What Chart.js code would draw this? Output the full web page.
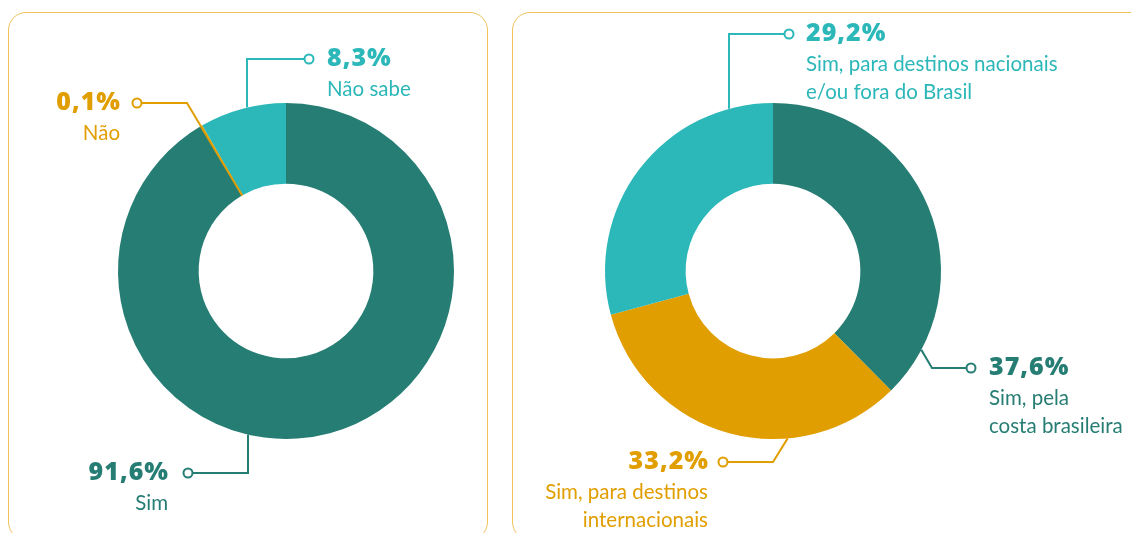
<!DOCTYPE html>
<html>
<head>
<meta charset="utf-8">
<script src="https://cdn.jsdelivr.net/npm/chart.js@4"></script>
<style>
  html, body { margin: 0; padding: 0; background: #fff; overflow: hidden; }
  body { width: 1131px; height: 533px; position: relative; }
  .panel { position: absolute; border: 1.5px solid #F1C25A; border-radius: 18px; box-sizing: border-box; }
  #p1 { left: 8px; top: 12px; width: 480px; height: 528px; }
  #p2 { left: 512px; top: 12px; width: 660px; height: 528px; }
  .box { position: absolute; top: 0; height: 542px; }
  #b1 { left: 0; width: 572px; }
  #b2 { left: 415px; width: 716px; }
</style>
</head>
<body>
<div class="panel" id="p1"></div>
<div class="panel" id="p2"></div>
<div class="box" id="b1"><canvas id="chart1"></canvas></div>
<div class="box" id="b2"><canvas id="chart2"></canvas></div>
<script>
// dados
var q1Labels = ['Sim', 'Não', 'Não sabe'];
var q1Values = [91.6, 0.1, 8.3];
var q1Lines = [['Sim'], ['Não'], ['Não sabe']];

var q2Labels = ['Sim, pela costa brasileira', 'Sim, para destinos internacionais', 'Sim, para destinos nacionais e/ou fora do Brasil'];
var q2Values = [37.6, 33.2, 29.2];
var q2Lines = [['Sim, pela', 'costa brasileira'], ['Sim, para destinos', 'internacionais'], ['Sim, para destinos nacionais', 'e/ou fora do Brasil']];

var DARK = '#267D74', ORANGE = '#E19E00', LIGHT = '#2CB7B8';

function pct(v) {
    return v.toFixed(1).replace('.', ',') + '%';
}

// callouts: posição do ponto/texto em coordenadas locais do canvas
var callouts1 = [
    {dot: [188, 473], align: 'right', tx: 168, vx: 248, side: 'bottom'},
    {dot: [137, 103], align: 'right', tx: 120, ex: 187, end: 'midInner'},
    {dot: [309, 59], align: 'left', tx: 327, vx: 247, side: 'top'}
];
var callouts2 = [
    {dot: [556, 368], align: 'left', tx: 574, ex: 517, angle: 118},
    {dot: [308, 462], align: 'right', tx: 293, ex: 358, angle: 175},
    {dot: [374, 34], align: 'left', tx: 391, vx: 314, side: 'top'}
];

var calloutPlugin = {
    id: 'callouts',
    afterDatasetsDraw: function(chart, args, opts) {
        var ctx = chart.ctx;
        var meta = chart.getDatasetMeta(0);
        var values = chart.data.datasets[0].data;
        var colors = chart.data.datasets[0].backgroundColor;
        opts.items.forEach(function(c, i) {
            var arc = meta.data[i];
            var cx = arc.x, cy = arc.y, R = arc.outerRadius, r = arc.innerRadius;
            var dx = c.dot[0], dy = c.dot[1];
            var pts = [];
            var dir = c.align === 'right' ? 1 : -1;
            var start = [dx + dir * 4.5, dy];
            if (c.vx !== undefined) {
                var h = Math.sqrt(R * R - (c.vx - cx) * (c.vx - cx));
                var ey = c.side === 'top' ? cy - h : cy + h;
                pts = [start, [c.vx, dy], [c.vx, ey]];
            } else {
                var end;
                if (c.end === 'midInner') {
                    var a = (arc.startAngle + arc.endAngle) / 2;
                    end = [cx + r * Math.cos(a), cy + r * Math.sin(a)];
                } else {
                    var t = c.angle * Math.PI / 180;
                    end = [cx + R * Math.sin(t), cy - R * Math.cos(t)];
                }
                pts = [start, [c.ex, dy], end];
            }
            var col = colors[i];
            ctx.save();
            ctx.strokeStyle = col;
            ctx.lineWidth = 2;
            ctx.beginPath();
            ctx.moveTo(pts[0][0], pts[0][1]);
            for (var k = 1; k < pts.length; k++) ctx.lineTo(pts[k][0], pts[k][1]);
            ctx.stroke();
            ctx.beginPath();
            ctx.arc(dx, dy, 4.5, 0, Math.PI * 2);
            ctx.fillStyle = '#fff';
            ctx.fill();
            ctx.stroke();

            ctx.fillStyle = col;
            ctx.textAlign = c.align;
            ctx.textBaseline = 'middle';
            ctx.font = '800 25px "Open Sans", sans-serif';
            ctx.letterSpacing = '1px';
            ctx.fillText(pct(values[i]), c.tx + (c.align === 'right' ? 1 : 0), dy);
            ctx.letterSpacing = '0px';
            ctx.font = '20.5px Lato, sans-serif';
            var lines = opts.lines[i];
            for (var j = 0; j < lines.length; j++) {
                ctx.fillText(lines[j], c.tx, dy + 30 + j * 28);
            }
            ctx.restore();
        });
    }
};

function makeChart(id, labels, values, colors, items, lines, padX) {
    return new Chart(document.getElementById(id), {
        type: 'doughnut',
        data: {
            labels: labels,
            datasets: [{
                data: values,
                backgroundColor: colors,
                borderWidth: 0
            }]
        },
        options: {
            responsive: true,
            maintainAspectRatio: false,
            animation: false,
            cutout: '52%',
            layout: {padding: {top: 103, bottom: 103, left: padX, right: padX}},
            plugins: {
                legend: {display: false},
                tooltip: {enabled: false},
                callouts: {items: items, lines: lines}
            }
        },
        plugins: [calloutPlugin]
    });
}

makeChart('chart1', q1Labels, q1Values, [DARK, ORANGE, LIGHT], callouts1, q1Lines, 118);
makeChart('chart2', q2Labels, q2Values, [DARK, ORANGE, LIGHT], callouts2, q2Lines, 190);
</script>
</body>
</html>
